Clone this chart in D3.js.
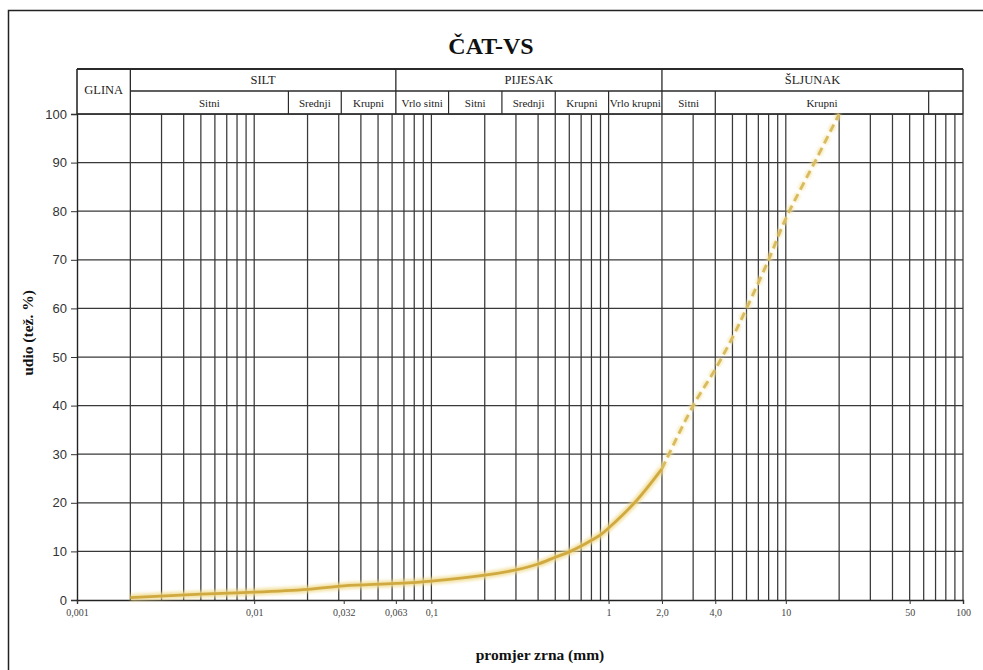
<!DOCTYPE html>
<html>
<head>
<meta charset="utf-8">
<script src="https://cdn.jsdelivr.net/npm/d3@7/dist/d3.min.js"></script>
<style>
  body { margin: 0; background: #fff; }
  svg { display: block; }
</style>
</head>
<body>
<svg id="chart" width="983" height="670"></svg>
<script>
// Grain size distribution (granulometric curve), sample ČAT-VS
const chartTitle = "ČAT-VS";

// Measured part of the curve (sieve / sedimentation), mm vs % passing
const grainSizes   = [0.002, 0.005, 0.01, 0.02, 0.032, 0.063, 0.1, 0.2, 0.3, 0.4, 0.5, 0.6, 0.7, 0.8, 0.9, 1.0, 1.4, 2.0];
const passingSolid = [0.5,   1.2,   1.6,  2.2,  2.9,   3.4,   3.9, 5.1, 6.2, 7.4, 8.8, 9.9, 11.1, 12.3, 13.4, 14.8, 20.0, 27.0];

// Extrapolated gravel part (dashed)
const gravelSizes   = [2.0,  3.0,  4.0,  5.0,  6.0,  8.0,  10.0, 15.0, 20.0];
const passingDashed = [27.0, 40.0, 47.5, 54.0, 60.0, 70.0, 78.5, 91.0, 100.0];

// Axis ticks
const yTickValues = [0, 10, 20, 30, 40, 50, 60, 70, 80, 90, 100];
const xTickValues = [0.001, 0.01, 0.032, 0.063, 0.1, 1, 2, 4, 10, 50, 100];
const xTickLabels = ["0,001", "0,01", "0,032", "0,063", "0,1", "1", "2,0", "4,0", "10", "50", "100"];

// Classification header (Wentworth boundaries, mm)
const mainClasses = ["SILT", "PIJESAK", "ŠLJUNAK"];
const mainBounds  = [[0.002, 0.063], [0.063, 2], [2, 100]];
const clayLabel   = "GLINA";
const clayBounds  = [0.001, 0.002];
const subClasses  = ["Sitni", "Srednji", "Krupni", "Vrlo sitni", "Sitni", "Srednji", "Krupni", "Vrlo krupni", "Sitni", "Krupni", ""];
const subBounds   = [[0.002, 0.0156], [0.0156, 0.031], [0.031, 0.063],
                     [0.063, 0.125], [0.125, 0.25], [0.25, 0.5], [0.5, 1], [1, 2],
                     [2, 4], [4, 64], [64, 100]];

const xLabel = "promjer zrna (mm)";
const yLabel = "udio (tež. %)";

const serif = "'Liberation Serif', 'Times New Roman', serif";
const sans  = "'Liberation Sans', Arial, sans-serif";

const svg = d3.select("#chart");

const x = d3.scaleLog().domain([0.001, 100]).range([77, 963]);
const y = d3.scaleLinear().domain([0, 100]).range([600, 114]);

const headTop = 69, headMid = 91, headBottom = y(100);
const gridColor = "#383838";

// outer frame
svg.append("rect")
  .attr("x", 8.5).attr("y", 10.5).attr("width", 990).attr("height", 680)
  .attr("fill", "none").attr("stroke", "#222").attr("stroke-width", 1.5);

// title
svg.append("text")
  .attr("x", 491).attr("y", 54)
  .attr("text-anchor", "middle")
  .attr("font-family", serif).attr("font-weight", "bold").attr("font-size", 24)
  .attr("fill", "#111")
  .text(chartTitle);

// vertical log grid
const gridTicks = x.ticks().filter(d => d > 0.001);
svg.append("g").selectAll("line").data(gridTicks).join("line")
  .attr("x1", d => x(d)).attr("x2", d => x(d))
  .attr("y1", y(0)).attr("y2", y(100))
  .attr("stroke", gridColor).attr("stroke-width", 1.25);

// horizontal grid
svg.append("g").selectAll("line").data(yTickValues.filter(d => d > 0)).join("line")
  .attr("x1", x(0.001)).attr("x2", x(100))
  .attr("y1", d => y(d)).attr("y2", d => y(d))
  .attr("stroke", gridColor).attr("stroke-width", 1.25);

// y axis
const yAxis = d3.axisLeft(y).tickValues(yTickValues).tickSize(6).tickPadding(4);
const gy = svg.append("g").attr("transform", `translate(${x(0.001)},0)`).call(yAxis);
gy.select(".domain").attr("stroke", "#222").attr("stroke-width", 1.4);
gy.selectAll(".tick line").attr("stroke", "#333");
gy.selectAll(".tick text")
  .attr("font-family", sans).attr("font-size", 13).attr("fill", "#333");

// x axis
const xAxis = d3.axisBottom(x).tickValues(xTickValues)
  .tickFormat((d, i) => xTickLabels[i]).tickSize(4).tickPadding(5);
const gx = svg.append("g").attr("transform", `translate(0,${y(0)})`).call(xAxis);
gx.select(".domain").attr("stroke", "#222").attr("stroke-width", 1.4);
gx.selectAll(".tick line").attr("stroke", "#333");
gx.selectAll(".tick text")
  .attr("font-family", serif).attr("font-size", 10).attr("fill", "#444");

// header table
const head = svg.append("g").attr("fill", "none").attr("stroke", "#2a2a2a");
head.append("line").attr("x1", x(0.001)).attr("x2", x(100))
  .attr("y1", headTop).attr("y2", headTop).attr("stroke-width", 1.8);
head.append("line").attr("x1", x(0.002)).attr("x2", x(100))
  .attr("y1", headMid).attr("y2", headMid).attr("stroke-width", 1.3);
head.append("line").attr("x1", x(0.001)).attr("x2", x(100))
  .attr("y1", headBottom).attr("y2", headBottom).attr("stroke-width", 1.4);
head.append("line").attr("x1", x(0.001)).attr("x2", x(0.001))
  .attr("y1", headTop).attr("y2", headBottom).attr("stroke-width", 1.6);
head.append("line").attr("x1", x(100)).attr("x2", x(100))
  .attr("y1", headTop).attr("y2", headBottom).attr("stroke-width", 1.4);
head.selectAll(".mainDiv").data(mainBounds).join("line")
  .attr("x1", d => x(d[0])).attr("x2", d => x(d[0]))
  .attr("y1", headTop).attr("y2", headBottom).attr("stroke-width", 1.3);
head.selectAll(".subDiv").data(subBounds.filter(b => !mainBounds.some(m => m[0] === b[0]))).join("line")
  .attr("x1", d => x(d[0])).attr("x2", d => x(d[0]))
  .attr("y1", headMid).attr("y2", headBottom).attr("stroke-width", 1.2);

const headText = svg.append("g")
  .attr("font-family", serif).attr("fill", "#222").attr("text-anchor", "middle");
headText.append("text")
  .attr("x", (x(clayBounds[0]) + x(clayBounds[1])) / 2).attr("y", 94)
  .attr("font-size", 12.5).text(clayLabel);
headText.selectAll(".mainLbl").data(mainClasses).join("text")
  .attr("x", (d, i) => (x(mainBounds[i][0]) + x(mainBounds[i][1])) / 2)
  .attr("y", 84).attr("font-size", 12.5).text(d => d);
headText.selectAll(".subLbl").data(subClasses).join("text")
  .attr("x", (d, i) => (x(subBounds[i][0]) + x(subBounds[i][1])) / 2)
  .attr("y", 107).attr("font-size", 11).text(d => d);

// axis titles
svg.append("text")
  .attr("x", 540).attr("y", 660).attr("text-anchor", "middle")
  .attr("font-family", serif).attr("font-weight", "bold").attr("font-size", 15.5)
  .attr("fill", "#111").text(xLabel);
svg.append("text")
  .attr("transform", "translate(33,333) rotate(-90)").attr("text-anchor", "middle")
  .attr("font-family", serif).attr("font-weight", "bold").attr("font-size", 15.5)
  .attr("fill", "#111").text(yLabel);

// grading curve
const defs = svg.append("defs");
defs.append("filter").attr("id", "soft").attr("x", "-10%").attr("y", "-10%")
  .attr("width", "120%").attr("height", "120%")
  .append("feGaussianBlur").attr("stdDeviation", 1.6);

const line = d3.line().x(d => x(d[0])).y(d => y(d[1])).curve(d3.curveCatmullRom.alpha(0.5));
const solidPts  = grainSizes.map((s, i) => [s, passingSolid[i]]);
const dashedPts = gravelSizes.map((s, i) => [s, passingDashed[i]]);

const curve = svg.append("g").attr("fill", "none").attr("stroke-linecap", "butt");
curve.append("path").attr("d", line(solidPts))
  .attr("stroke", "#f0da8c").attr("stroke-width", 7).attr("opacity", 0.8)
  .attr("filter", "url(#soft)");
curve.append("path").attr("d", line(dashedPts))
  .attr("stroke", "#f3e2a2").attr("stroke-width", 6).attr("opacity", 0.75)
  .attr("stroke-dasharray", "8,5").attr("filter", "url(#soft)");
curve.append("path").attr("d", line(solidPts))
  .attr("stroke", "#d0aa40").attr("stroke-width", 2.8);
curve.append("path").attr("d", line(dashedPts))
  .attr("stroke", "#d8bb5e").attr("stroke-width", 2.8)
  .attr("stroke-dasharray", "8,5");
</script>
</body>
</html>
